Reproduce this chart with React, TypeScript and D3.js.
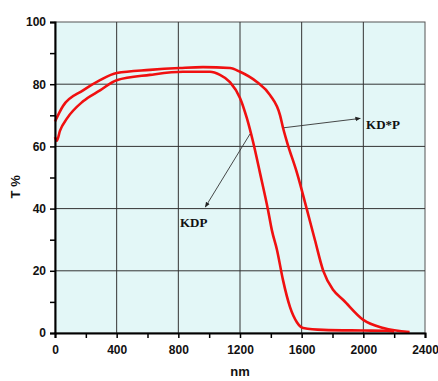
import React, { useEffect, useRef } from 'react';
import * as d3 from 'd3';

// transmission spectra, wavelength (nm) vs T (%)
const kdpNm = [0, 12, 32, 78, 182, 292, 400, 616, 830, 1005, 1070, 1135, 1200, 1245, 1285, 1330, 1382, 1407, 1440, 1479, 1524, 1570, 1610, 1740, 2000, 2150, 2200];
const kdpT = [63, 61.8, 65, 69, 74.5, 78, 81.3, 83, 84, 84, 83, 80.7, 75.6, 69, 61.4, 51.4, 39.5, 33, 26.7, 17, 8.4, 3.4, 1.6, 1, 0.8, 0.7, 0.5];

const kdspNm = [0, 52, 182, 292, 400, 616, 810, 960, 1135, 1200, 1310, 1395, 1460, 1479, 1505, 1570, 1635, 1686, 1740, 1805, 1870, 2000, 2130, 2300];
const kdspT = [68, 73, 78, 81.3, 83.6, 84.6, 85.2, 85.5, 85.2, 84, 80.7, 76.5, 70, 66, 61.4, 51.4, 39.5, 29.9, 20, 13.8, 10.6, 4.2, 1.6, 0.3];

const xTicks = [0, 400, 800, 1200, 1600, 2000, 2400];
const yTicks = [0, 20, 40, 60, 80, 100];

export default function App() {
  const ref = useRef<SVGSVGElement>(null);

  useEffect(() => {
    const width = 438;
    const height = 381;
    const margin = { top: 22, right: 13, bottom: 48, left: 55 };

    const svg = d3.select(ref.current);
    svg.selectAll('*').remove();

    const x = d3.scaleLinear().domain([0, 2400]).range([margin.left, width - margin.right]);
    const y = d3.scaleLinear().domain([0, 100]).range([height - margin.bottom, margin.top]);

    const defs = svg.append('defs');
    defs
      .append('marker')
      .attr('id', 'arr')
      .attr('viewBox', '0 0 10 10')
      .attr('refX', 9)
      .attr('refY', 5)
      .attr('markerWidth', 6)
      .attr('markerHeight', 6)
      .attr('orient', 'auto')
      .append('path')
      .attr('d', 'M0,1 L10,5 L0,9 Z')
      .attr('fill', '#222');

    // plot background
    svg
      .append('rect')
      .attr('x', x(0))
      .attr('y', y(100))
      .attr('width', x(2400) - x(0))
      .attr('height', y(0) - y(100))
      .attr('fill', '#e3f7f7')
      .attr('stroke', '#555')
      .attr('stroke-width', 1);

    // grid
    const grid = svg.append('g').attr('stroke', '#333').attr('stroke-width', 1);
    xTicks.slice(1, -1).forEach((t) => {
      grid.append('line').attr('x1', x(t)).attr('x2', x(t)).attr('y1', y(0)).attr('y2', y(100));
    });
    yTicks.slice(1, -1).forEach((t) => {
      grid.append('line').attr('y1', y(t)).attr('y2', y(t)).attr('x1', x(0)).attr('x2', x(2400));
    });

    // curves
    const line = d3
      .line<[number, number]>()
      .x((d) => x(d[0]))
      .y((d) => y(d[1]))
      .curve(d3.curveMonotoneX);

    const series = [
      kdpNm.map((v, i) => [v, kdpT[i]] as [number, number]),
      kdspNm.map((v, i) => [v, kdspT[i]] as [number, number]),
    ];
    svg
      .append('g')
      .selectAll('path')
      .data(series)
      .enter()
      .append('path')
      .attr('d', (d) => line(d))
      .attr('fill', 'none')
      .attr('stroke', '#f01010')
      .attr('stroke-width', 2.6)
      .attr('stroke-linejoin', 'round');

    // axes
    const xAxis = svg
      .append('g')
      .attr('transform', `translate(0,${y(0)})`)
      .call(d3.axisBottom(x).tickValues(d3.range(0, 2401, 200)).tickSize(5).tickFormat((d) => (xTicks.includes(+d) ? String(d) : '')));
    const yAxis = svg
      .append('g')
      .attr('transform', `translate(${x(0)},0)`)
      .call(d3.axisLeft(y).tickValues(d3.range(0, 101, 10)).tickSize(5).tickFormat((d) => (yTicks.includes(+d) ? String(d) : '')));

    [xAxis, yAxis].forEach((a) => {
      a.select('.domain').attr('stroke', '#000').attr('stroke-width', 2);
      a.selectAll('.tick line').attr('stroke', '#000').attr('stroke-width', 1.5);
      a.selectAll('text')
        .attr('fill', '#111')
        .style('font-family', 'Liberation Sans, Arial, sans-serif')
        .style('font-weight', 'bold')
        .style('font-size', '12px');
    });
    xAxis.selectAll('text').attr('dy', '1.05em');
    yAxis.selectAll('text').attr('x', -9);

    svg
      .append('text')
      .attr('x', x(1200))
      .attr('y', 376)
      .attr('text-anchor', 'middle')
      .style('font-family', 'Liberation Sans, Arial, sans-serif')
      .style('font-weight', 'bold')
      .style('font-size', '13px')
      .attr('fill', '#111')
      .text('nm');

    svg
      .append('text')
      .attr('transform', `translate(20,${y(47)}) rotate(-90)`)
      .attr('text-anchor', 'middle')
      .style('font-family', 'Liberation Sans, Arial, sans-serif')
      .style('font-weight', 'bold')
      .style('font-size', '13px')
      .attr('fill', '#111')
      .text('T %');

    // annotations
    const notes = [
      { label: 'KD*P', from: [1485, 66], to: [1980, 69], at: [2018, 65.5], anchor: 'start' },
      { label: 'KDP', from: [1265, 64], to: [975, 40.5], at: [810, 34], anchor: 'start' },
    ];
    notes.forEach((n) => {
      svg
        .append('line')
        .attr('x1', x(n.from[0]))
        .attr('y1', y(n.from[1]))
        .attr('x2', x(n.to[0]))
        .attr('y2', y(n.to[1]))
        .attr('stroke', '#333')
        .attr('stroke-width', 0.9)
        .attr('marker-end', 'url(#arr)');
      svg
        .append('text')
        .attr('x', x(n.at[0]))
        .attr('y', y(n.at[1]))
        .attr('text-anchor', n.anchor)
        .style('font-family', 'Liberation Serif, Times New Roman, serif')
        .style('font-weight', 'bold')
        .style('font-size', '13px')
        .attr('fill', '#111')
        .text(n.label);
    });
  });

  return (
    <svg
      ref={ref}
      width={438}
      height={381}
      style={{ display: 'block', position: 'absolute', left: 0, top: 0, background: '#fff' }}
    />
  );
}
